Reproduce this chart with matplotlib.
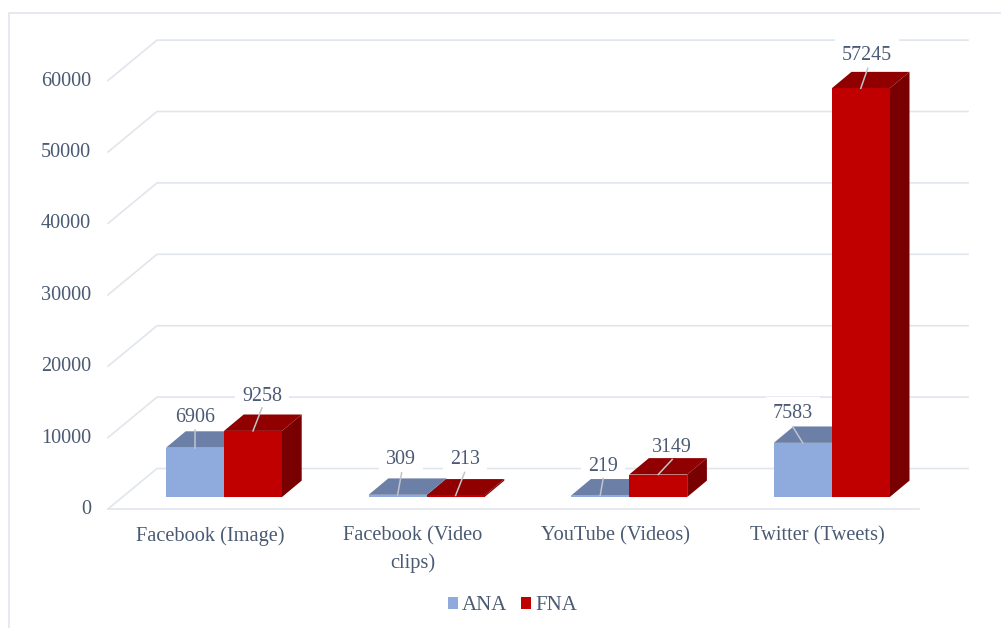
import matplotlib
matplotlib.use("Agg")
import matplotlib.pyplot as plt
from matplotlib.patches import Polygon, Patch

plt.rcParams['font.family'] = ['Liberation Serif', 'DejaVu Serif']

categories = ["Facebook (Image)", "Facebook (Video\nclips)", "YouTube (Videos)", "Twitter (Tweets)"]
ana = [6906, 309, 219, 7583]
fna = [9258, 213, 3149, 57245]
y_ticks = [0, 10000, 20000, 30000, 40000, 50000, 60000]

W, H = 1001, 628
# front plane of the bars, in pixels
X0, CAT_PX = 224.0, 202.6
Y0, VAL_PX = 497.0, 71.4 / 10000
BAR_PX = 58.0
DEPTH_X, DEPTH_Y = 19.7, 16.4   # bar depth
FLOOR_X, FLOOR_Y = 157.0, 468.5   # back wall, value 0
FRONT_X, FRONT_Y = 108.0, 509.0   # front of floor, value 0

TEXT_COL = "#4A5A73"
GRID_COL = "#E1E5EC"

fig = plt.figure(figsize=(W / 100, H / 100), dpi=100)
ax = fig.add_axes([0, 0, 1, 1])
ax.set_xlim((0 - X0) / CAT_PX, (W - X0) / CAT_PX)
ax.set_ylim((Y0 - H) / VAL_PX, Y0 / VAL_PX)
ax.axis("off")


def dx(px):
    return px / CAT_PX


def dy(px):
    return px / VAL_PX


def xp(px):
    return (px - X0) / CAT_PX


def yp(px):
    return (Y0 - px) / VAL_PX


# outer border
ax.plot([xp(9), xp(9), xp(W)], [yp(H), yp(13), yp(13)], color=GRID_COL, lw=1.2, zorder=1)

# walls and gridlines
for t in y_ticks:
    back_y = yp(FLOOR_Y) + t
    front_y = yp(FRONT_Y) + t
    ax.plot([xp(FRONT_X), xp(FLOOR_X), xp(968)], [front_y, back_y, back_y],
            color=GRID_COL, lw=1.2, zorder=1, solid_joinstyle="miter")
    ax.text(xp(91), front_y - dy(0.5), str(t), ha="right", va="center",
            fontsize=14.6, color=TEXT_COL)
ax.plot([xp(FRONT_X), xp(919)], [yp(FRONT_Y), yp(FRONT_Y)], color=GRID_COL, lw=1.2, zorder=1)


def bar3d(left, val, front, top, side, z):
    w = dx(BAR_PX)
    ax.bar(left, val, width=w, align="edge", color=front, linewidth=0, zorder=z + 0.2)
    ax.add_patch(Polygon([(left, val), (left + w, val),
                          (left + w + dx(DEPTH_X), val + dy(DEPTH_Y)),
                          (left + dx(DEPTH_X), val + dy(DEPTH_Y))],
                         closed=True, facecolor=top, edgecolor="none", zorder=z + 0.1))
    ax.add_patch(Polygon([(left + w, 0), (left + w + dx(DEPTH_X), dy(DEPTH_Y)),
                          (left + w + dx(DEPTH_X), val + dy(DEPTH_Y)), (left + w, val)],
                         closed=True, facecolor=side, edgecolor="none", zorder=z))


w = dx(BAR_PX)
for i in range(len(categories)):
    bar3d(i - w, ana[i], "#8FAADC", "#6C7FA6", "#5A6B8C", 2 + i)
    bar3d(i, fna[i], "#C00000", "#900000", "#780000", 2.5 + i)

# label offsets from the middle of each bar top: leader end, text centre (px)
ana_off = [((0, 18), (0, 30)), ((4, 22), (3, 35)), ((3, 17), (3, 29)), ((-10, 16), (-10, 29))]
fna_off = [((9, 23), (9, 34)), ((9, 23), (9, 36)), ((14, 15), (14, 27)), ((7, 20), (6, 33))]

for i in range(len(categories)):
    for val, cx, off in [(ana[i], i - w / 2, ana_off[i]), (fna[i], i + w / 2, fna_off[i])]:
        (lx, ly), (tx, ty) = off
        ax.plot([cx, cx + dx(lx)], [val, val + dy(ly)], color="#BFC5CE", lw=1.1, zorder=11)
        # boxes only hide gridlines, so they stay under the bars
        ax.text(cx + dx(tx), val + dy(ty), str(val), ha="center", va="center",
                fontsize=14.4, color=TEXT_COL, zorder=1.5,
                bbox=dict(boxstyle="square,pad=0.35", facecolor="white", edgecolor="none"))

# category labels
for i, c in enumerate(categories):
    ax.text(i + xp(210) - xp(224), yp(526.5), c, ha="center", va="top", fontsize=14.7,
            color=TEXT_COL, linespacing=1.5)

handles = [Patch(facecolor="#8FAADC", label="ANA"), Patch(facecolor="#C00000", label="FNA")]
ax.legend(handles=handles, ncol=2, loc="center", bbox_to_anchor=(512.5 / W, 1 - 606 / H),
          frameon=False, fontsize=15, labelcolor=TEXT_COL, handlelength=0.48, handleheight=0.48,
          handletextpad=0.2, columnspacing=0.65, borderpad=0)

fig.savefig("out.png", dpi=100, facecolor="white")
